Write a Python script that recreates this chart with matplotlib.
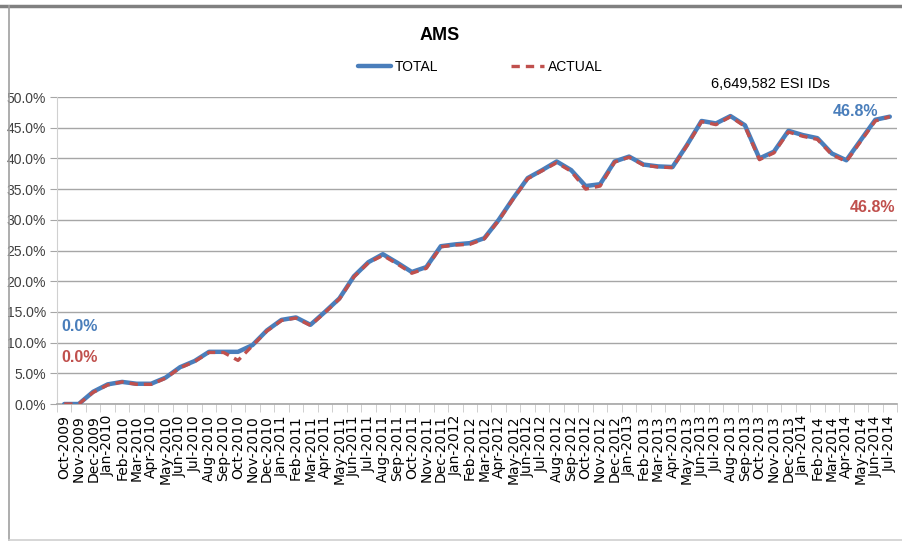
import matplotlib
matplotlib.use("Agg")
import matplotlib.pyplot as plt
from matplotlib.lines import Line2D
import numpy as np

months = ["Oct-2009", "Nov-2009", "Dec-2009",
          "Jan-2010", "Feb-2010", "Mar-2010", "Apr-2010", "May-2010", "Jun-2010",
          "Jul-2010", "Aug-2010", "Sep-2010", "Oct-2010", "Nov-2010", "Dec-2010",
          "Jan-2011", "Feb-2011", "Mar-2011", "Apr-2011", "May-2011", "Jun-2011",
          "Jul-2011", "Aug-2011", "Sep-2011", "Oct-2011", "Nov-2011", "Dec-2011",
          "Jan-2012", "Feb-2012", "Mar-2012", "Apr-2012", "May-2012", "Jun-2012",
          "Jul-2012", "Aug-2012", "Sep-2012", "Oct-2012", "Nov-2012", "Dec-2012",
          "Jan-2013", "Feb-2013", "Mar-2013", "Apr-2013", "May-2013", "Jun-2013",
          "Jul-2013", "Aug-2013", "Sep-2013", "Oct-2013", "Nov-2013", "Dec-2013",
          "Jan-2014", "Feb-2014", "Mar-2014", "Apr-2014", "May-2014", "Jun-2014",
          "Jul-2014"]

total = [0.0, 0.0, 2.0,
         3.2, 3.6, 3.3, 3.3, 4.3, 6.0,
         7.0, 8.5, 8.5, 8.5, 9.6, 12.0,
         13.7, 14.1, 12.9, 15.0, 17.2, 20.8,
         23.1, 24.4, 23.0, 21.5, 22.3, 25.7,
         26.0, 26.2, 27.0, 30.0, 33.5, 36.8,
         38.1, 39.5, 38.1, 35.5, 35.8, 39.5,
         40.3, 39.0, 38.7, 38.6, 42.2, 46.1,
         45.7, 46.9, 45.4, 40.0, 41.1, 44.5,
         43.8, 43.3, 40.8, 39.7, 43.0, 46.3,
         46.8]

actual = [0.0, 0.0, 1.9,
          3.1, 3.6, 3.2, 3.2, 4.2, 5.9,
          6.9, 8.4, 8.4, 7.1, 9.5, 11.9,
          13.6, 14.0, 12.8, 14.9, 17.1, 20.7,
          23.0, 24.2, 22.8, 21.3, 22.1, 25.6,
          25.9, 26.0, 26.9, 29.9, 33.4, 36.7,
          38.0, 39.3, 37.9, 35.0, 35.5, 39.4,
          40.2, 38.9, 38.6, 38.5, 42.1, 46.0,
          45.5, 46.8, 45.2, 39.8, 40.9, 44.3,
          43.6, 43.1, 40.6, 39.5, 42.8, 46.1,
          46.8]

narrow = ["Liberation Sans Narrow", "Liberation Sans", "DejaVu Sans"]
blue = "#4A7EBB"
red = "#C0504D"

fig = plt.figure(figsize=(9.03, 5.42), dpi=100)
ax = fig.add_axes([0.0631, 0.2546, 0.9303, 0.5664])

x = np.arange(len(months))
ax.plot(x, total, color=blue, lw=3.2, solid_capstyle="round", label="TOTAL", zorder=3)
ax.plot(x, actual, color=red, lw=2.4, ls=(0, (2.5, 1.8)), label="ACTUAL", zorder=4)

ax.set_xlim(-0.5, len(months) - 0.5)
ax.set_ylim(0, 50)
ax.set_yticks(np.arange(0, 51, 5))
ax.set_yticklabels(["%.1f%%" % v for v in np.arange(0, 51, 5)], family=narrow, fontsize=10, color="#404040")
ax.yaxis.grid(True, color="#a6a6a6", lw=1)
ax.set_axisbelow(True)
ax.tick_params(axis="y", length=5, color="#a6a6a6", pad=3)

ax.set_xticks(x)
ax.set_xticklabels(months, rotation=90, fontsize=10, family="DejaVu Sans", color="black")
ax.set_xticks(np.arange(-0.5, len(months), 1), minor=True)
ax.tick_params(axis="x", which="major", length=0, pad=8)
ax.tick_params(axis="x", which="minor", length=6, color="#c8c8c8")

for s in ["top", "right"]:
    ax.spines[s].set_visible(False)
ax.spines["left"].set_color("#d0d0d0")
ax.spines["bottom"].set_color("#a6a6a6")
ax.spines["bottom"].set_linewidth(1.2)

fig.text(0.487, 0.935, "AMS", ha="center", va="center", family=narrow, fontsize=13, fontweight="bold")
leg = fig.legend(handles=ax.get_lines(), loc="center", bbox_to_anchor=(0.532, 0.876), ncol=2,
                 frameon=False, prop={"family": narrow, "size": 10}, handlelength=2.4,
                 columnspacing=5.2, handletextpad=0.3)
fig.text(0.853, 0.845, "6,649,582 ESI IDs", ha="center", va="center", family=narrow, fontsize=10.5)

ax.text(54.6, 47.6, "46.8%", color=blue, family=narrow, fontsize=11.5, fontweight="bold", ha="center", va="center")
ax.text(55.8, 32.0, "46.8%", color=red, family=narrow, fontsize=11.5, fontweight="bold", ha="center", va="center")
ax.text(-0.2, 12.7, "0.0%", color=blue, family=narrow, fontsize=11.5, fontweight="bold", ha="left", va="center")
ax.text(-0.2, 7.6, "0.0%", color=red, family=narrow, fontsize=11.5, fontweight="bold", ha="left", va="center")

# chart frame
fig.add_artist(Line2D([0, 1], [0.989, 0.989], transform=fig.transFigure, color="#808080", lw=2.5))
fig.add_artist(Line2D([0.01, 0.01], [0.004, 0.989], transform=fig.transFigure, color="#a0a0a0", lw=1.2))
fig.add_artist(Line2D([0.01, 1], [0.004, 0.004], transform=fig.transFigure, color="#d0d0d0", lw=1.2))

fig.savefig("out.png", dpi=100)
